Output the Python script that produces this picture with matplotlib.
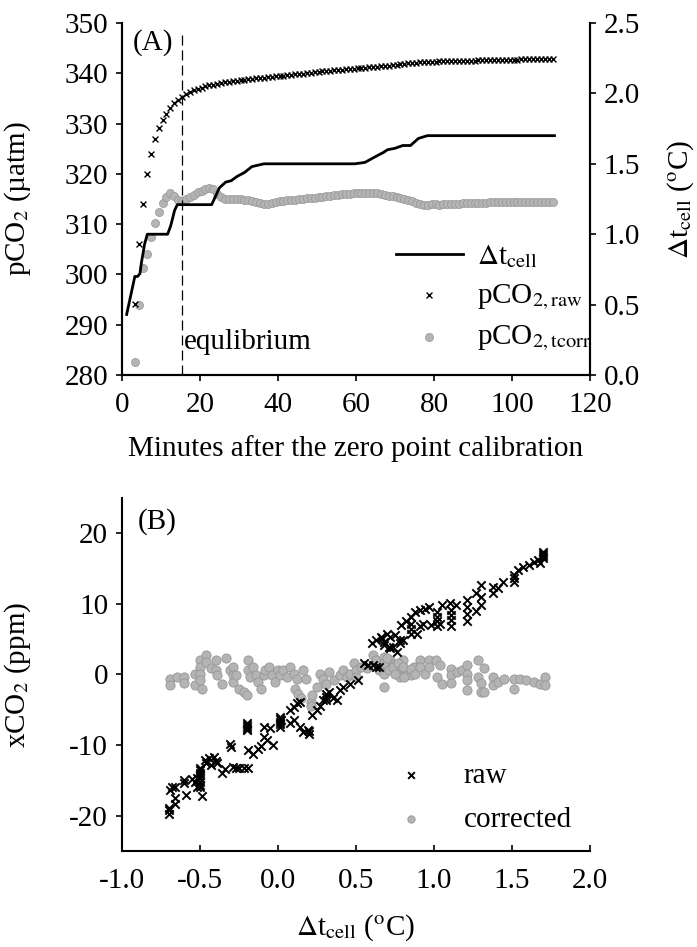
import matplotlib
matplotlib.use("Agg")
import matplotlib.pyplot as plt
import numpy as np

plt.rcParams['font.family'] = ['Liberation Serif', 'DejaVu Serif']
plt.rcParams['mathtext.fontset'] = 'stix'
plt.rcParams['axes.unicode_minus'] = False
plt.rcParams['font.size'] = 21

# ---- panel A data (minutes after zero point calibration) ----
minutes = np.arange(3.4, 110.5, 1.0)  # one sample per minute
pco2_raw = [294.1, 306.0, 314.0, 320.0, 324.0, 327.0, 329.2, 330.7, 332.0, 333.1,
            334.0, 334.7, 335.3, 335.8, 336.2, 336.6, 336.9, 337.1, 337.4, 337.6,
            337.7, 337.9, 338.0, 338.2, 338.3, 338.4, 338.5, 338.6, 338.7, 338.8,
            338.9, 339.0, 339.0, 339.1, 339.2, 339.3, 339.4, 339.4, 339.5, 339.6,
            339.7, 339.8, 339.8, 339.9, 340.0, 340.1, 340.2, 340.3, 340.4, 340.4,
            340.5, 340.6, 340.6, 340.7, 340.8, 340.8, 340.9, 341.0, 341.0, 341.1,
            341.2, 341.2, 341.3, 341.4, 341.4, 341.5, 341.6, 341.7, 341.8, 341.9,
            342.0, 342.1, 342.1, 342.2, 342.2, 342.3, 342.3, 342.3, 342.4, 342.4,
            342.4, 342.4, 342.5, 342.5, 342.5, 342.5, 342.5, 342.5, 342.6, 342.6,
            342.6, 342.6, 342.6, 342.7, 342.7, 342.7, 342.7, 342.7, 342.7, 342.8,
            342.8, 342.8, 342.8, 342.8, 342.8, 342.8, 342.8, 342.8]
pco2_tcorr = [282.5, 294.0, 301.2, 304.1, 307.4, 310.2, 312.5, 314.3, 315.4, 316.1,
              315.6, 314.9, 314.6, 315.0, 315.4, 315.8, 316.3, 316.6, 316.9, 317.1,
              316.9, 315.9, 315.4, 315.1, 315.0, 315.0, 315.1, 315.0, 314.9, 314.8,
              314.6, 314.4, 314.2, 314.0, 314.1, 314.3, 314.5, 314.6, 314.7, 314.8,
              314.9, 314.9, 315.0, 315.1, 315.2, 315.2, 315.3, 315.4, 315.4, 315.5,
              315.6, 315.7, 315.8, 315.9, 316.0, 316.0, 316.1, 316.1, 316.2, 316.2,
              316.2, 316.2, 316.1, 316.0, 315.8, 315.6, 315.5, 315.4, 315.2, 315.0,
              314.8, 314.6, 314.3, 314.0, 313.9, 313.9, 314.0, 314.0, 313.9, 314.0,
              314.0, 314.1, 314.1, 314.1, 314.2, 314.2, 314.2, 314.3, 314.3, 314.3,
              314.3, 314.4, 314.4, 314.4, 314.4, 314.5, 314.5, 314.5, 314.5, 314.5,
              314.5, 314.5, 314.5, 314.5, 314.5, 314.5, 314.5, 314.5]
dt_minutes = [1.2, 3.3, 4.0, 4.6, 5.0, 5.8, 6.5, 11.7, 12.5, 13.5, 14.2, 23.0, 24.0,
              25.0, 26.6, 28.0, 29.5, 31.5, 33.3, 36.4, 59.7, 62.3, 65.6, 67.0, 68.1,
              70.0, 72.0, 74.0, 76.0, 78.3, 110.9]
dt_cell = [0.43, 0.70, 0.70, 0.72, 0.80, 0.93, 1.00, 1.00, 1.06, 1.17, 1.21, 1.21, 1.27,
           1.33, 1.37, 1.38, 1.41, 1.44, 1.48, 1.50, 1.50, 1.51, 1.56, 1.58, 1.60,
           1.61, 1.63, 1.63, 1.68, 1.70, 1.70]
t_equilibrium = 15.3

# ---- panel B data (xCO2 deviation vs cell temperature offset) ----
raw_dt = [-0.70, -0.70, -0.70, -0.69, -0.68, -0.66, -0.66, -0.66, -0.60, -0.60, -0.59,
          -0.55, -0.53, -0.52, -0.52, -0.50, -0.50, -0.50, -0.50, -0.50, -0.50, -0.50,
          -0.50, -0.49, -0.47, -0.46, -0.44, -0.43, -0.41, -0.40, -0.39, -0.36, -0.34,
          -0.31, -0.30, -0.29, -0.27, -0.25, -0.22, -0.20, -0.20, -0.20, -0.20, -0.20,
          -0.19, -0.19, -0.16, -0.13, -0.11, -0.09, -0.09, -0.07, -0.05, -0.03, 0.01,
          0.01, 0.01, 0.01, 0.01, 0.02, 0.08, 0.08, 0.10, 0.10, 0.12, 0.14, 0.14, 0.16,
          0.19, 0.20, 0.20, 0.22, 0.25, 0.27, 0.29, 0.31, 0.31, 0.31, 0.33, 0.35, 0.38,
          0.40, 0.42, 0.46, 0.51, 0.55, 0.58, 0.61, 0.63, 0.65, 0.60, 0.63, 0.66, 0.67,
          0.68, 0.68, 0.70, 0.71, 0.72, 0.72, 0.74, 0.75, 0.76, 0.78, 0.78, 0.79, 0.80,
          0.82, 0.85, 0.85, 0.85, 0.85, 0.88, 0.89, 0.91, 0.91, 0.93, 0.94, 0.97, 0.98,
          1.02, 1.02, 1.02, 1.02, 1.04, 1.05, 1.10, 1.11, 1.11, 1.11, 1.11, 1.14, 1.21,
          1.21, 1.21, 1.21, 1.27, 1.27, 1.30, 1.30, 1.30, 1.38, 1.38, 1.41, 1.44, 1.51,
          1.51, 1.51, 1.54, 1.57, 1.61, 1.64, 1.67, 1.68, 1.70, 1.70, 1.70, 1.70]
raw_xco2 = [-19.8, -19.2, -18.9, -16.4, -16.0, -15.9, -17.5, -18.3, -15.4, -15.0, -17.1,
            -14.8, -15.2, -15.9, -14.6, -13.3, -13.6, -14.0, -14.3, -14.7, -15.2, -15.6,
            -16.0, -17.2, -12.1, -12.6, -11.9, -12.8, -11.7, -12.3, -12.6, -14.0, -13.4,
            -9.8, -10.3, -13.1, -13.3, -13.2, -13.3, -6.9, -7.2, -7.4, -7.7, -7.9,
            -10.7, -13.3, -11.2, -10.5, -10.2, -8.8, -7.4, -9.3, -7.6, -10.0, -6.0,
            -6.3, -6.7, -7.0, -7.4, -6.5, -5.1, -6.9, -4.6, -6.5, -4.1, -3.9, -7.4, -8.1,
            -7.9, -8.4, -8.0, -5.8, -5.1, -4.4, -3.6, -2.7, -3.6, -3.2, -2.5, -3.4, -3.6,
            -2.2, -1.8, -1.3, -0.8, 1.6, 1.4, 1.3, 1.1, 1.1, 4.4, 4.9, 5.3, 5.1,
            4.6, 4.2, 5.8, 3.9, 5.3, 3.7, 3.9, 5.6, 3.2, 4.4, 4.9, 7.0, 4.9,
            7.5, 8.2, 5.8, 6.5, 7.2, 8.9, 5.8, 9.1, 6.8, 7.2, 9.3, 9.6, 7.0,
            8.2, 7.5, 6.8, 8.9, 7.2, 9.8, 10.1, 6.9, 7.7, 8.4, 9.1, 9.8, 10.5,
            9.6, 8.5, 7.5, 11.5, 9.0, 12.7, 11.0, 9.8, 12.4, 11.5, 12.2, 13.1, 14.1,
            13.1, 13.6, 14.8, 15.2, 15.5, 15.9, 16.2, 15.8, 16.5, 17.0, 17.4, 16.8]
corr_dt = [-0.69, -0.69, -0.65, -0.60, -0.60, -0.53, -0.53, -0.50, -0.50, -0.50, -0.50,
           -0.49, -0.46, -0.46, -0.43, -0.40, -0.40, -0.39, -0.36, -0.33, -0.31, -0.29,
           -0.29, -0.29, -0.27, -0.25, -0.22, -0.20, -0.19, -0.19, -0.18, -0.16, -0.14,
           -0.13, -0.11, -0.09, -0.08, -0.06, -0.04, -0.02, 0.00, 0.01, 0.03, 0.06, 0.08,
           0.10, 0.11, 0.12, 0.13, 0.15, 0.16, 0.18, 0.21, 0.21, 0.22, 0.25, 0.27, 0.29,
           0.31, 0.33, 0.36, 0.40, 0.42, 0.44, 0.46, 0.49, 0.50, 0.50, 0.53, 0.57, 0.61,
           0.63, 0.65, 0.68, 0.68, 0.70, 0.72, 0.74, 0.76, 0.78, 0.80, 0.82, 0.85, 0.87,
           0.68, 0.68, 0.70, 0.71, 0.74, 0.75, 0.77, 0.80, 0.81, 0.85, 0.88, 0.91, 0.91,
           0.94, 0.97, 0.97, 1.01, 1.02, 1.04, 1.05, 1.11, 1.11, 1.11, 1.15, 1.18, 1.21,
           1.21, 1.21, 1.21, 1.28, 1.28, 1.30, 1.30, 1.32, 1.32, 1.38, 1.38, 1.41, 1.45,
           1.51, 1.51, 1.55, 1.59, 1.64, 1.68, 1.71, 1.71]
corr_xco2 = [-0.6, -1.5, -0.4, -0.3, -1.2, 0.1, -1.5, 2.0, 1.1, 0.1, -0.8,
             -2.0, 2.7, 1.8, 0.9, 2.0, 0.6, -0.1, -1.3, 2.3, 0.6, 1.1,
             -0.1, -1.0, -0.1, -2.0, -2.5, -2.9, 2.0, 0.6, -0.3, 1.1, -0.1,
             -1.0, -2.0, -0.1, 0.6, 1.1, -0.1, -1.0, 0.6, -0.1, 0.6, -0.3, 1.1,
             0.1, -2.0, -0.6, -2.7, -3.4, 0.6, -0.6, -3.9, -4.4, -2.9, -1.8, 0.1, -0.6,
             -1.3, 0.4, -0.8, -0.1, 0.6, -0.3, 0.1, 1.6, 0.6, -0.3, 1.1, 0.9, 2.7,
             2.0, 0.6, 0.1, 2.5, 1.1, 2.0, 1.3, 0.6, -0.3, 2.0, 0.6, -0.1, 1.1,
             -1.8, 1.6, 2.3, 0.6, 1.1, 0.1, 1.6, 1.1, -0.3, 0.8, 0.1, 2.0, 1.1,
             0.1, 2.0, 1.1, 2.0, -0.3, 1.3, -1.3, 0.8, -0.1, -1.2, 0.4, 0.6, 1.3,
             0.1, -0.8, -2.2, 2.0, -0.3, -1.2, -2.5, 0.9, -2.5, -0.3, -1.5, -1.0, -0.6,
             -0.6, -2.0, -0.6, -0.8, -1.0, -1.3, -0.3, -1.5]

grey = '#b4b4b4'
grey_edge = '#969696'

fig = plt.figure(figsize=(6.97, 9.47), dpi=100)

# ---------------- panel A ----------------
ax1 = fig.add_axes([0.175, 0.604, 0.6714, 0.3717])
ax2 = ax1.twinx()

ax1.scatter(minutes, pco2_raw, marker='x', s=18, color='black', linewidths=1.0,
            label=r'pCO$_{2,\mathrm{raw}}$', zorder=3)
ax1.scatter(minutes, pco2_tcorr, marker='o', s=34, facecolor=grey, edgecolor=grey_edge,
            linewidths=0.5, label=r'pCO$_{2,\mathrm{tcorr}}$', zorder=2)
ax1.plot([t_equilibrium, t_equilibrium], [280, 347.6], color='black', lw=0.9,
         dashes=(8, 4))
ax1.text(t_equilibrium + 0.5, 286.6, 'equlibrium', va='center', ha='left')
ax1.text(2.8, 346.2, '(A)', va='center', ha='left')

ax2.plot(dt_minutes, dt_cell, color='black', lw=2.0, label=r'$\Delta$t$_{\mathrm{cell}}$')

ax1.set_xlim(0, 120)
ax1.set_ylim(280, 350)
ax2.set_ylim(0, 2.5)
ax1.set_xticks(np.arange(0, 121, 20))
ax1.set_yticks(np.arange(280, 351, 10))
ax2.set_yticks(np.arange(0, 2.51, 0.5))
ax2.yaxis.set_major_formatter(matplotlib.ticker.FormatStrFormatter('%.1f'))

for ax in (ax1, ax2):
    ax.spines['top'].set_visible(False)
    for s in ('left', 'right', 'bottom'):
        ax.spines[s].set_linewidth(1.5)
    ax.tick_params(direction='out', length=4, width=1.2, pad=6)
ax1.tick_params(axis='x', pad=8)

ax1.set_ylabel(r'pCO$_2$ (µatm)')
ax1.yaxis.set_label_coords(-0.19, 0.5)
ax2.set_ylabel(r'$\Delta$t$_{\mathrm{cell}}$ ($^{\mathrm{o}}$C)')
ax2.yaxis.set_label_coords(1.162, 0.5)
ax1.set_xlabel('Minutes after the zero point calibration')
ax1.xaxis.set_label_coords(0.5, -0.17)

h1, l1 = ax1.get_legend_handles_labels()
h2, l2 = ax2.get_legend_handles_labels()
ax2.legend(h2 + h1, l2 + l1, loc='upper left', bbox_to_anchor=(0.585, 0.375),
           frameon=False, borderpad=0, borderaxespad=0, handlelength=2.3,
           handletextpad=0.5, labelspacing=0.42)

# ---------------- panel B ----------------
ax3 = fig.add_axes([0.175, 0.1014, 0.6714, 0.3728])
ax3.scatter(raw_dt, raw_xco2, marker='x', s=36, color='black', linewidths=1.4,
            label='raw', zorder=3)
ax3.scatter(corr_dt, corr_xco2, marker='o', s=44, facecolor=grey, edgecolor=grey_edge,
            linewidths=0.6, label='corrected', zorder=2)
ax3.text(-0.897, 21.6, '(B)', va='center', ha='left')

ax3.set_xlim(-1.0, 2.0)
ax3.set_ylim(-25, 25)
ax3.set_xticks(np.arange(-1.0, 2.01, 0.5))
ax3.set_yticks(np.arange(-20, 21, 10))
ax3.xaxis.set_major_formatter(matplotlib.ticker.FormatStrFormatter('%.1f'))
ax3.spines['top'].set_visible(False)
ax3.spines['right'].set_visible(False)
for s in ('left', 'bottom'):
    ax3.spines[s].set_linewidth(1.5)
ax3.tick_params(axis='y', direction='out', length=4, width=1.2, pad=6)
ax3.tick_params(axis='x', direction='in', length=4, width=1.2, pad=12)

ax3.set_ylabel(r'xCO$_2$ (ppm)')
ax3.yaxis.set_label_coords(-0.19, 0.5)
ax3.set_xlabel(r'$\Delta$t$_{\mathrm{cell}}$ ($^{\mathrm{o}}$C)')
ax3.xaxis.set_label_coords(0.5, -0.175)
ax3.legend(loc='upper left', bbox_to_anchor=(0.556, 0.25), frameon=False,
           borderpad=0, borderaxespad=0, handlelength=2.0, handletextpad=0.8,
           labelspacing=0.6, markerscale=0.8)

fig.savefig('out.png', dpi=100)
